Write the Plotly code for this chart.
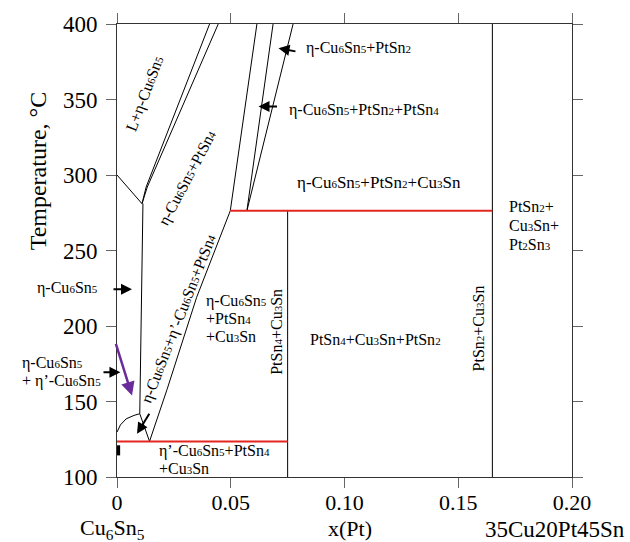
import plotly.graph_objects as go

# ---------------- data ----------------
x_ticks = [0, 0.05, 0.10, 0.15, 0.20]
x_ticktext = ["0", "0.05", "0.10", "0.15", "0.20"]
y_ticks = [100, 150, 200, 250, 300, 350, 400]

# phase boundaries (black)
upper_left_x = [0.0, 0.011]
upper_left_y = [300, 281]
liq1_x = [0.011, 0.0128, 0.0407]
liq1_y = [281, 292, 400]
liq2_x = [0.011, 0.0133, 0.0445]
liq2_y = [281, 292, 400]
vleft_x = [0.0114, 0.0100, 0.0143]
vleft_y = [281, 141.9, 123.6]
vright_x = [0.0143, 0.022, 0.035, 0.0498]
vright_y = [123.6, 158, 219, 276.3]
lowcurve_x = [0.0, 0.0015, 0.004, 0.0075, 0.0100]
lowcurve_y = [129.7, 134.5, 138.5, 140.8, 141.9]
lineA_x = [0.0498, 0.0615]
lineA_y = [276.3, 400]
lineB_x = [0.0571, 0.0686]
lineB_y = [276.3, 400]
lineC_x = [0.0571, 0.0774]
lineC_y = [276.3, 400]
vert075_x = [0.075, 0.075]
vert075_y = [100, 276.3]
vert165_x = [0.165, 0.165]
vert165_y = [100, 400]
# invariant (red) lines
red_low_x = [0.0, 0.075]
red_low_y = [123.5, 123.5]
red_high_x = [0.0498, 0.165]
red_high_y = [276.3, 276.3]
# thick mark at x=0
mark_x = [0.0005, 0.0005]
mark_y = [114.3, 121.0]

SERIF = "Liberation Serif"
FS = 16

# plot-area geometry in pixels (for labels placed outside the axes)
L, T, W, H = 117, 22, 455, 455


def s(d):
    return f'<span style="font-size:11px">{d}</span>'


CU6SN5 = f"Cu{s(6)}Sn{s(5)}"

fig = go.Figure()


def add_line(xs, ys, color="black", width=1):
    fig.add_trace(go.Scatter(x=xs, y=ys, mode="lines",
                             line=dict(color=color, width=width),
                             hoverinfo="skip", showlegend=False))


for xs, ys in [(upper_left_x, upper_left_y), (liq1_x, liq1_y), (liq2_x, liq2_y),
               (vleft_x, vleft_y), (vright_x, vright_y), (lowcurve_x, lowcurve_y),
               (lineA_x, lineA_y), (lineB_x, lineB_y), (lineC_x, lineC_y),
               (vert075_x, vert075_y), (vert165_x, vert165_y)]:
    add_line(xs, ys)

add_line(red_low_x, red_low_y, color="#e3261f", width=2)
add_line(red_high_x, red_high_y, color="#e3261f", width=2)
add_line(mark_x, mark_y, color="black", width=4)

ann = []


def txt(x, y, t, angle=0, xanchor="center", size=FS):
    ann.append(dict(x=x, y=y, xref="x", yref="y", text=t, showarrow=False,
                    textangle=angle, xanchor=xanchor, yanchor="middle",
                    font=dict(family=SERIF, size=size, color="black")))


def ptxt(px, py, t, angle=0, xanchor="center", size=FS):
    # label outside the axes, given in paper fractions
    ann.append(dict(x=(px - L) / W, y=(T + H - py) / H, xref="paper", yref="paper",
                    text=t, showarrow=False, textangle=angle, xanchor=xanchor,
                    yanchor="middle", font=dict(family=SERIF, size=size, color="black")))


def arrow(x, y, ax, ay, color="black", width=2):
    ann.append(dict(x=x, y=y, ax=ax, ay=ay, xref="x", yref="y", axref="x", ayref="y",
                    text="", showarrow=True, arrowhead=2, arrowsize=1.1,
                    arrowwidth=width, arrowcolor=color, standoff=0))


# region labels
txt(0.01244, 354.2, f"L+η-{CU6SN5}", angle=-69)
txt(0.031, 297.9, f"η-{CU6SN5}+PtSn{s(4)}", angle=-62)
txt(0.0271, 204.6, f"η-{CU6SN5}+η’-{CU6SN5}+PtSn{s(4)}", angle=-68.6)
txt(0.0381, 400 - (300 - 22.3) / 1.5147, f"η-{CU6SN5}", xanchor="left")
txt(0.0381, 400 - (318 - 22.3) / 1.5147, f"+PtSn{s(4)}", xanchor="left")
txt(0.0381, 400 - (336 - 22.3) / 1.5147, f"+Cu{s(3)}Sn", xanchor="left")
txt(0.0703, 196.1, f"PtSn{s(4)}+Cu{s(3)}Sn", angle=-90)
txt(0.1138, 190.9, f"PtSn{s(4)}+Cu{s(3)}Sn+PtSn{s(2)}")
txt(0.159, 198.2, f"PtSn{s(2)}+Cu{s(3)}Sn", angle=-90)
txt(0.1714, 279.4, f"PtSn{s(2)}+", xanchor="left")
txt(0.1714, 266.6, f"Cu{s(3)}Sn+", xanchor="left")
txt(0.1714, 254.1, f"Pt{s(2)}Sn{s(3)}", xanchor="left")
txt(0.0784, 294.8, f"η-{CU6SN5}+PtSn{s(2)}+Cu{s(3)}Sn", xanchor="left", size=17)
txt(0.0820, 383.9, f"η-{CU6SN5}+PtSn{s(2)}", xanchor="left")
txt(0.0747, 343.2, f"η-{CU6SN5}+PtSn{s(2)}+PtSn{s(4)}", xanchor="left")
txt(0.0176, 117.0, f"η’-{CU6SN5}+PtSn{s(4)}", xanchor="left")
txt(0.0176, 105.6, f"+Cu{s(3)}Sn", xanchor="left")

# labels left of the axis
ptxt(35, 286.7, f"η-{CU6SN5}", xanchor="left")
ptxt(20, 362.3, f"η-{CU6SN5}", xanchor="left")
ptxt(20, 381, f"+ η’-{CU6SN5}", xanchor="left")

# arrows
arrow(0.0066, 224.4, -0.0022, 224.4)
arrow(0.0015, 169.3, -0.0066, 169.3)
arrow(0.0066, 153.9, -0.0007, 189.1, color="#6a2c9a", width=2.5)
arrow(0.0088, 128.7, 0.0146, 142.9)
arrow(0.0710, 383.9, 0.0791, 381.7)
arrow(0.0622, 345.4, 0.0710, 345.4)

# axis titles / end labels
ptxt(38, 170, "Temperature, °C", angle=-90, size=24)
ptxt(350, 529, "x(Pt)", size=22)
ptxt(112, 529, "Cu<sub>6</sub>Sn<sub>5</sub>", size=22)
ptxt(555, 530, "35Cu20Pt45Sn", size=23)

fig.update_layout(
    width=630, height=542,
    margin=dict(l=L, r=630 - L - W, t=T, b=542 - T - H, pad=0),
    paper_bgcolor="white", plot_bgcolor="white",
    showlegend=False,
    annotations=ann,
    font=dict(family=SERIF, size=23, color="black"),
)
fig.update_xaxes(range=[0, 0.2], tickvals=x_ticks, ticktext=x_ticktext,
                 showgrid=False, zeroline=False, showline=True, linecolor="#333",
                 linewidth=1, mirror="allticks", ticks="outside", ticklen=10,
                 tickcolor="#666", tickfont=dict(family=SERIF, size=22),
                 ticklabelstandoff=-4)
fig.update_yaxes(range=[100, 400], tickvals=y_ticks,
                 showgrid=False, zeroline=False, showline=True, linecolor="#333",
                 linewidth=1, mirror="allticks", ticks="outside", ticklen=10,
                 tickcolor="#666", tickfont=dict(family=SERIF, size=23),
                 ticklabelstandoff=4)

fig.write_html("out.html", config={"displayModeBar": False},
               post_script="document.body.style.margin='0';document.body.style.overflow='hidden';")
